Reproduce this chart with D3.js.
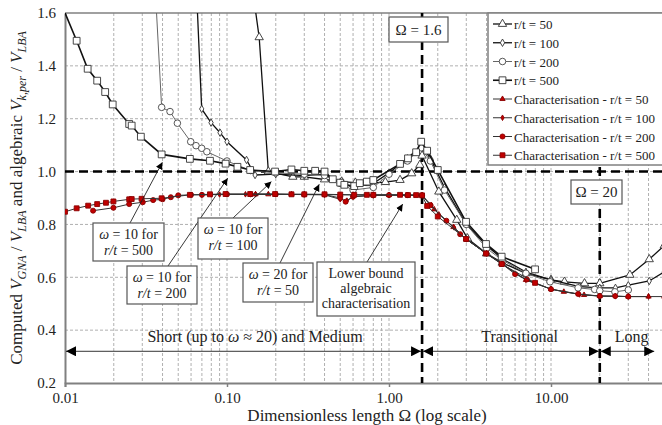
<!DOCTYPE html>
<html>
<head>
<meta charset="utf-8">
<script src="https://cdn.jsdelivr.net/npm/d3@7"></script>
<style>
  body { margin: 0; background: #fff; }
  svg { display: block; }
</style>
</head>
<body>
<div id="chart"></div>
<script>
// ---- data ----
const yTicks = [0.2, 0.4, 0.6, 0.8, 1.0, 1.2, 1.4, 1.6];
const xTicks = [0.01, 0.1, 1, 10];
const xTickLabels = ["0.01", "0.10", "1.00", "10.00"];

// GNA results (open markers)
const om50 = [0.143, 0.158, 0.18, 0.255, 0.30, 0.40, 0.51, 0.62, 0.76, 0.95, 1.17, 1.38, 1.55, 1.6, 2.03, 2.62, 3.05, 4.0, 5.0, 7.0, 10.0, 12.1, 16.1, 20.0, 30.7, 40.4, 50.0];
const v50  = [1.70, 1.508, 1.0, 0.98, 0.98, 0.97, 0.962, 0.958, 0.956, 0.96, 0.968, 0.993, 1.025, 1.06, 0.924, 0.817, 0.747, 0.69, 0.655, 0.615, 0.59, 0.583, 0.577, 0.577, 0.609, 0.668, 0.72];

const om100 = [0.0652, 0.0698, 0.0797, 0.0906, 0.100, 0.132, 0.149, 0.20, 0.30, 0.40, 0.50, 0.60, 0.80, 1.0, 1.3, 1.58, 1.8, 2.2, 3.0, 4.0, 5.0, 7.0, 10.0, 15.0, 20.0, 25.0, 30.0, 40.4, 50.0];
const v100  = [1.65, 1.237, 1.185, 1.147, 1.113, 1.044, 0.987, 0.99, 0.985, 0.99, 0.96, 0.94, 0.955, 0.995, 1.05, 1.10, 1.05, 0.94, 0.80, 0.72, 0.67, 0.62, 0.59, 0.565, 0.56, 0.56, 0.57, 0.586, 0.62];

const om200 = [0.036, 0.0395, 0.0445, 0.0494, 0.0597, 0.0644, 0.0698, 0.0751, 0.10, 0.14, 0.20, 0.30, 0.40, 0.50, 0.60, 0.80, 1.0, 1.3, 1.58, 1.8, 2.2, 3.0, 4.0, 5.0, 7.0, 9.86, 14.7, 18.6, 20.0, 24.8, 30.0];
const v200  = [1.70, 1.243, 1.227, 1.183, 1.113, 1.098, 1.088, 1.075, 1.04, 1.004, 0.995, 0.99, 0.985, 0.955, 0.93, 0.94, 0.99, 1.04, 1.09, 1.04, 0.93, 0.80, 0.71, 0.665, 0.615, 0.583, 0.56, 0.554, 0.549, 0.545, 0.552];

const om500 = [0.0097, 0.0118, 0.0138, 0.0158, 0.0177, 0.0197, 0.0249, 0.0258, 0.0294, 0.0395, 0.059, 0.0785, 0.098, 0.116, 0.139, 0.198, 0.25, 0.30, 0.35, 0.40, 0.45, 0.50, 0.53, 0.61, 0.66, 0.73, 0.80, 1.17, 1.31, 1.47, 1.58, 1.72, 2.0, 2.99, 3.97, 4.96, 7.97];
const v500  = [1.62, 1.495, 1.389, 1.344, 1.301, 1.254, 1.18, 1.174, 1.132, 1.065, 1.048, 1.041, 1.030, 1.018, 1.006, 1.0, 1.008, 1.003, 1.003, 1.0, 0.971, 0.958, 0.95, 0.945, 0.956, 0.962, 0.968, 1.029, 1.05, 1.073, 1.113, 1.079, 1.006, 0.81, 0.726, 0.678, 0.63];

// algebraic characterisation (red markers)
const omC50 = [0.15, 0.18, 0.25, 0.30, 0.40, 0.50, 0.60, 0.80, 1.0, 1.3, 1.6, 1.9, 2.5, 3.0, 4.0, 5.0, 7.0, 10.0, 12.0, 16.0, 20.0, 30.0, 40.0, 50.0];
const vC50  = [0.914, 0.914, 0.914, 0.914, 0.913, 0.912, 0.912, 0.912, 0.911, 0.911, 0.910, 0.857, 0.79, 0.744, 0.69, 0.65, 0.59, 0.555, 0.545, 0.533, 0.529, 0.527, 0.527, 0.527];

const omC100 = [0.07, 0.08, 0.09, 0.10, 0.13, 0.15, 0.20, 0.30, 0.40, 0.50, 0.55, 0.60, 0.80, 1.0, 1.3, 1.6, 1.83, 2.03, 2.52, 3.0, 4.0, 5.0, 7.0, 10.0, 15.0, 20.0, 25.0, 30.0, 40.0];
const vC100  = [0.912, 0.913, 0.913, 0.914, 0.914, 0.914, 0.914, 0.913, 0.912, 0.895, 0.89, 0.905, 0.91, 0.911, 0.911, 0.910, 0.873, 0.838, 0.789, 0.744, 0.69, 0.65, 0.59, 0.555, 0.535, 0.529, 0.528, 0.527, 0.527];

const omC200 = [0.0149, 0.0199, 0.0249, 0.0302, 0.035, 0.04, 0.045, 0.05, 0.06, 0.07, 0.10, 0.14, 0.20, 0.30, 0.40, 0.50, 0.54, 0.60, 0.80, 1.0, 1.3, 1.6, 1.8, 2.26, 2.75, 3.0, 4.0, 5.0, 6.0, 7.1, 10.0, 14.7, 20.0, 24.9, 30.0];
const vC200  = [0.852, 0.863, 0.877, 0.884, 0.892, 0.895, 0.903, 0.91, 0.912, 0.912, 0.914, 0.914, 0.914, 0.913, 0.913, 0.90, 0.886, 0.905, 0.91, 0.911, 0.911, 0.910, 0.873, 0.814, 0.763, 0.744, 0.69, 0.65, 0.612, 0.592, 0.555, 0.537, 0.529, 0.529, 0.527];

const omC500 = [0.01, 0.0118, 0.0139, 0.0158, 0.0179, 0.0199, 0.0249, 0.0258, 0.0297, 0.0395, 0.059, 0.0785, 0.098, 0.139, 0.198, 0.25, 0.30, 0.40, 0.50, 0.61, 0.73, 0.80, 1.17, 1.31, 1.47, 1.6, 1.72, 2.0, 2.99, 3.97, 4.96, 7.97];
const vC500  = [0.848, 0.861, 0.871, 0.877, 0.882, 0.887, 0.895, 0.896, 0.897, 0.899, 0.912, 0.914, 0.915, 0.915, 0.915, 0.914, 0.914, 0.914, 0.913, 0.912, 0.912, 0.912, 0.912, 0.911, 0.911, 0.910, 0.87, 0.83, 0.745, 0.69, 0.65, 0.579];

const limits = [1.6, 20];
const regions = [
  { label: "Short (up to ω ≈ 20) and Medium", from: 0.01, to: 1.6, at: 0.149 },
  { label: "Transitional", from: 1.6, to: 20, at: 6.4 },
  { label: "Long", from: 20, to: 44, at: 31.5 }
];
const regionLevel = 0.32;

// ---- layout ----
const W = 662, H = 425;
const L = 65, T = 13, B = 383;
const FONT = "'Liberation Serif', 'Times New Roman', 'DejaVu Serif', serif";
const x = d3.scaleLog().domain([0.01, 100]).range([L, L + 4 * 162]);
const y = d3.scaleLinear().domain([0.2, 1.6]).range([B, T]);

const svg = d3.select("#chart").append("svg").attr("width", W).attr("height", H)
  .attr("font-family", FONT);
const defs = svg.append("defs");
defs.append("clipPath").attr("id", "plot")
  .append("rect").attr("x", L).attr("y", T).attr("width", W - L).attr("height", B - T);
function head(id, size) {
  defs.append("marker").attr("id", id)
    .attr("viewBox", "0 0 10 10").attr("refX", 10).attr("refY", 5)
    .attr("markerWidth", size).attr("markerHeight", size)
    .attr("markerUnits", "userSpaceOnUse").attr("orient", "auto-start-reverse")
    .append("path").attr("d", "M0,0 L10,5 L0,10 Z").attr("fill", "#000");
}
head("bigHead", 10);
head("smallHead", 7);

// grid
const minor = [];
for (let d = 0.01; d < 100; d *= 10) for (let k = 1; k < 10; k++) minor.push(d * k);
const grid = svg.append("g").attr("stroke", "#b0b0b0").attr("stroke-dasharray", "3,2").attr("stroke-width", 1);
grid.selectAll(".gx").data(minor.filter(v => v > 0.0101)).enter().append("line")
  .attr("x1", d => x(d)).attr("x2", d => x(d)).attr("y1", T).attr("y2", B);
grid.selectAll(".gy").data(yTicks.slice(1, -1)).enter().append("line")
  .attr("x1", L).attr("x2", W).attr("y1", d => y(d)).attr("y2", d => y(d));

// axes
const gx = svg.append("g").attr("transform", `translate(0,${B})`)
  .call(d3.axisBottom(x).tickValues(xTicks).tickSize(4).tickPadding(2).tickFormat((d, i) => xTickLabels[i]));
const gy = svg.append("g").attr("transform", `translate(${L},0)`)
  .call(d3.axisLeft(y).tickValues(yTicks).tickSize(0).tickPadding(9).tickFormat(d3.format(".1f")));
[gx, gy].forEach(g => {
  g.attr("font-family", FONT);
  g.select(".domain").attr("stroke", "#808080").attr("stroke-width", 2);
  g.selectAll(".tick line").attr("stroke", "#808080").attr("stroke-width", 1.5);
  g.selectAll("text").attr("font-size", 15).attr("fill", "#222");
});
gx.selectAll("text").attr("dy", "0.9em");
svg.append("line").attr("x1", L).attr("x2", W).attr("y1", T).attr("y2", T)
  .attr("stroke", "#808080").attr("stroke-width", 1.5);

// reference lines
const ref = svg.append("g").attr("stroke", "#000").attr("stroke-width", 2.6).attr("stroke-dasharray", "9,5");
ref.append("line").attr("x1", L).attr("x2", W).attr("y1", y(1.0)).attr("y2", y(1.0));
ref.selectAll(".v").data(limits).enter().append("line")
  .attr("x1", d => x(d)).attr("x2", d => x(d)).attr("y1", T).attr("y2", B);

// series
const series = [
  { name: "r/t = 50", om: om50, v: v50, sym: d3.symbolTriangle, size: 30, fill: "#fff", edge: "#333", line: "#111", lw: 1.3 },
  { name: "r/t = 100", om: om100, v: v100, sym: d3.symbolDiamond, size: 16, fill: "#fff", edge: "#333", line: "#111", lw: 1.3 },
  { name: "r/t = 200", om: om200, v: v200, sym: d3.symbolCircle, size: 34, fill: "#fff", edge: "#444", line: "#666", lw: 1 },
  { name: "r/t = 500", om: om500, v: v500, sym: d3.symbolSquare, size: 46, fill: "#fff", edge: "#333", line: "#111", lw: 1.6 },
  { name: "Characterisation - r/t = 50", om: omC50, v: vC50, sym: d3.symbolTriangle, size: 12, fill: "#c00000", edge: "#8b0000", line: "#333", lw: 1 },
  { name: "Characterisation - r/t = 100", om: omC100, v: vC100, sym: d3.symbolDiamond, size: 9, fill: "#c00000", edge: "#8b0000", line: "#333", lw: 1 },
  { name: "Characterisation - r/t = 200", om: omC200, v: vC200, sym: d3.symbolCircle, size: 20, fill: "#c00000", edge: "#8b0000", line: "#333", lw: 1 },
  { name: "Characterisation - r/t = 500", om: omC500, v: vC500, sym: d3.symbolSquare, size: 24, fill: "#c00000", edge: "#8b0000", line: "#333", lw: 1 }
];
const line = d3.line().x(d => x(d[0])).y(d => y(d[1]));
const plot = svg.append("g").attr("clip-path", "url(#plot)");
series.forEach(s => {
  const pts = s.om.map((o, i) => [o, s.v[i]]);
  plot.append("path").datum(pts).attr("d", line)
    .attr("fill", "none").attr("stroke", s.line).attr("stroke-width", s.lw);
  plot.selectAll(null).data(pts).enter().append("path")
    .attr("d", d3.symbol().type(s.sym).size(s.size))
    .attr("transform", d => `translate(${x(d[0])},${y(d[1])})`)
    .attr("fill", s.fill).attr("stroke", s.edge).attr("stroke-width", 0.9);
});

// helper for text with italic parts
function rich(sel, parts) {
  parts.forEach(p => {
    sel.append("tspan").text(p[0]).attr("font-style", p[1] ? "italic" : null);
  });
}
function noteLine(s) {
  if (s.startsWith("ω")) return [["ω", 1], [s.slice(1), 0]];
  if (s.startsWith("r/t")) return [["r/t", 1], [s.slice(3), 0]];
  return [[s, 0]];
}

// annotations with arrows
const notes = [
  { lines: ["ω = 10 for", "r/t = 500"], box: [93, 223, 71, 38], tail: [130, 223], tip: [0.0399, 1.035] },
  { lines: ["ω = 10 for", "r/t = 200"], box: [127, 266, 70, 38], tail: [168, 266], tip: [0.101, 0.975] },
  { lines: ["ω = 10 for", "r/t = 100"], box: [198, 218, 70, 41], tail: [233, 218], tip: [0.188, 0.962] },
  { lines: ["ω = 20 for", "r/t = 50"], box: [243, 263, 70, 39], tail: [280, 263], tip: [0.371, 0.952] },
  { lines: ["Lower bound", "algebraic", "characterisation"], box: [317, 262, 98, 54], tail: [367, 262], tip: [1.215, 0.877] }
];
notes.forEach(n => {
  svg.append("line").attr("x1", n.tail[0]).attr("y1", n.tail[1])
    .attr("x2", x(n.tip[0])).attr("y2", y(n.tip[1]))
    .attr("stroke", "#222").attr("stroke-width", 0.9).attr("marker-end", "url(#smallHead)");
  svg.append("rect").attr("x", n.box[0]).attr("y", n.box[1]).attr("width", n.box[2]).attr("height", n.box[3])
    .attr("fill", "#fff").attr("stroke", "#555").attr("stroke-width", 1.2);
  const step = n.lines.length > 2 ? 15 : 16;
  n.lines.forEach((l, i) => {
    const t = svg.append("text").attr("x", n.box[0] + n.box[2] / 2).attr("y", n.box[1] + 16 + i * step)
      .attr("text-anchor", "middle").attr("font-size", 14).attr("fill", "#222");
    rich(t, noteLine(l));
  });
});

// limit labels
[{ text: "Ω = 1.6", box: [389, 17, 59, 25] }, { text: "Ω = 20", box: [571, 180, 51, 24] }].forEach(b => {
  svg.append("rect").attr("x", b.box[0]).attr("y", b.box[1]).attr("width", b.box[2]).attr("height", b.box[3])
    .attr("fill", "#fff").attr("stroke", "#555").attr("stroke-width", 1.2);
  svg.append("text").attr("x", b.box[0] + b.box[2] / 2).attr("y", b.box[1] + b.box[3] / 2 + 5)
    .attr("text-anchor", "middle").attr("font-size", 15).attr("fill", "#222").text(b.text);
});

// region arrows
regions.forEach(r => {
  svg.append("line").attr("x1", x(r.from) + 1).attr("x2", x(r.to) - 1)
    .attr("y1", y(regionLevel)).attr("y2", y(regionLevel))
    .attr("stroke", "#333").attr("stroke-width", 1)
    .attr("marker-start", "url(#bigHead)").attr("marker-end", "url(#bigHead)");
  const t = svg.append("text").attr("x", x(r.at)).attr("y", y(regionLevel) - 9)
    .attr("text-anchor", "middle").attr("font-size", 16).attr("fill", "#222");
  const i = r.label.indexOf("ω");
  if (i >= 0) rich(t, [[r.label.slice(0, i), 0], ["ω", 1], [r.label.slice(i + 1), 0]]);
  else t.text(r.label);
});

// axis titles
svg.append("text").attr("x", 367).attr("y", 421).attr("text-anchor", "middle")
  .attr("font-size", 17).attr("fill", "#222").text("Dimensionless length Ω (log scale)");
const yt = svg.append("text").attr("transform", `translate(22,${(T + B) / 2}) rotate(-90)`)
  .attr("text-anchor", "middle").attr("font-size", 17).attr("fill", "#222");
[["Computed ", 0, 0], ["V", 1, 0], ["GNA", 1, 1], [" / ", 0, 0], ["V", 1, 0], ["LBA", 1, 1],
 [" and algebraic ", 0, 0], ["V", 1, 0], ["k,per", 1, 1], [" / ", 0, 0], ["V", 1, 0], ["LBA", 1, 1]]
  .forEach((p, i, arr) => {
    const prevSub = i > 0 && arr[i - 1][2];
    const ts = yt.append("tspan").text(p[0]).attr("font-style", p[1] ? "italic" : null);
    if (p[2]) ts.attr("font-size", 12).attr("dy", 4);
    else if (prevSub) ts.attr("dy", -4);
  });

// legend
const lg = svg.append("g");
lg.append("rect").attr("x", 488).attr("y", 13).attr("width", 190).attr("height", 152)
  .attr("fill", "#fff").attr("stroke", "#808080").attr("stroke-width", 1.5);
series.forEach((s, i) => {
  const cy = 24 + i * 18.75;
  lg.append("line").attr("x1", 493).attr("x2", 512).attr("y1", cy).attr("y2", cy)
    .attr("stroke", s.line).attr("stroke-width", s.lw);
  lg.append("path").attr("d", d3.symbol().type(s.sym).size(s.size))
    .attr("transform", `translate(502.5,${cy})`)
    .attr("fill", s.fill).attr("stroke", s.edge).attr("stroke-width", 0.9);
  lg.append("text").attr("x", 514).attr("y", cy + 5).attr("font-size", 13).attr("fill", "#222").text(s.name);
});
</script>
</body>
</html>
